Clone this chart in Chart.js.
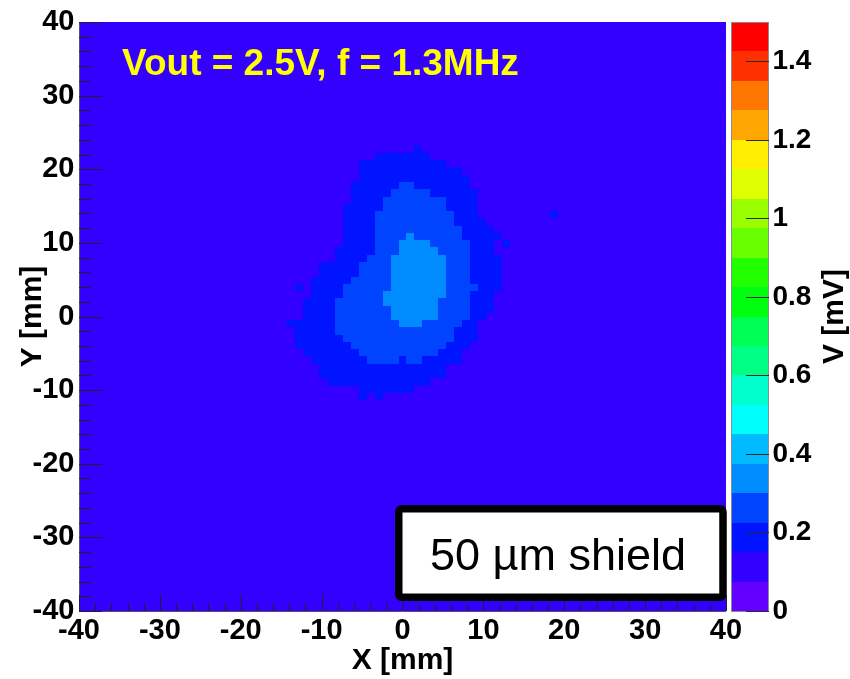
<!DOCTYPE html>
<html>
<head>
<meta charset="utf-8">
<title>Vout = 2.5V, f = 1.3MHz</title>
<script src="https://cdn.jsdelivr.net/npm/chart.js@4/dist/chart.umd.min.js"></script>
<style>
  html, body { margin: 0; padding: 0; background: #ffffff; }
  #wrap { width: 850px; height: 679px; }
</style>
</head>
<body>
<div id="wrap"><canvas id="map" width="850" height="679"></canvas></div>
<script>
// ---- Scan grid: 81 x 81 bins covering -40 .. 40 mm on both axes ----
const BIN_INDEX_MIN = -40;
const BIN_INDEX_MAX = 40;
const BIN_WIDTH_MM = 80 / 81;

// Signal amplitude (mV) away from the hot spot
const BACKGROUND_MV = 0.11;

// Amplitude of the three rings around the hot spot, outer to inner (mV)
const RING_VALUES_MV = [0.19, 0.26, 0.34];

// Cells of each ring: [bin row, first bin column, last bin column]
const OUTER_RING = [
  [23, 2, 2], [22, -3, 3], [21, -5, 5], [20, -5, 7], [19, -5, 8], [18, -6, 8],
  [17, -6, 9], [16, -6, 9], [15, -7, 9], [14, -7, 9], [14, 19, 19], [13, -7, 10],
  [12, -7, 11], [11, -7, 12], [10, -7, 11], [10, 13, 13], [9, -8, 11], [8, -8, 12],
  [7, -10, 12], [6, -10, 12], [5, -11, 12], [4, -11, 12], [4, -13, -13], [3, -11, 11],
  [2, -12, 11], [1, -12, 11], [0, -12, 10], [-1, -14, 9], [-2, -13, 9], [-3, -13, 9],
  [-4, -13, 8], [-5, -12, 7], [-6, -11, 7], [-7, -10, 5], [-8, -10, 5], [-9, -9, 3],
  [-10, -5, 1], [-11, -5, -5], [-11, -3, -3]
];
const MIDDLE_RING = [
  [18, 0, 1], [17, -1, 3], [16, -2, 5], [15, -2, 5], [14, -3, 6], [13, -3, 6],
  [12, -3, 7], [11, -3, 7], [10, -3, 8], [9, -3, 8], [8, -4, 8], [7, -5, 8],
  [6, -5, 8], [5, -6, 8], [4, -7, 9], [3, -7, 8], [2, -8, 8], [1, -8, 8],
  [0, -8, 8], [-1, -8, 7], [-2, -8, 6], [-3, -7, 6], [-4, -6, 5], [-5, -5, 4],
  [-6, -4, -1], [-6, 1, 2]
];
const INNER_RING = [
  [11, 1, 1], [10, 0, 3], [9, 0, 4], [8, -1, 5], [7, -1, 5], [6, -1, 5],
  [5, -1, 5], [4, -1, 5], [3, -2, 5], [2, -2, 4], [1, -1, 4], [0, -1, 4],
  [-1, 0, 2]
];
const RINGS = [OUTER_RING, MIDDLE_RING, INNER_RING];

// Axis ticks
const AXIS_TICKS_MM = [-40, -30, -20, -10, 0, 10, 20, 30, 40];
const Z_TICKS_MV = [0, 0.2, 0.4, 0.6, 0.8, 1, 1.2, 1.4];
const Z_MIN = 0;
const Z_MAX = 1.5;

// Texts
const RUN_LABEL = 'Vout = 2.5V, f = 1.3MHz';
const SHIELD_LABEL = '50 \u00b5m shield';
const X_TITLE = 'X [mm]';
const Y_TITLE = 'Y [mm]';
const Z_TITLE = 'V [mV]';

// 20-step violet-to-red colour scale
const PALETTE = [
  '#6300ff', '#3300ff', '#0014ff', '#0044ff', '#008bff', '#00bbff', '#00fffc',
  '#00ffcc', '#00ff85', '#00ff55', '#00ff0e', '#22ff00', '#69ff00', '#99ff00',
  '#e0ff00', '#ffee00', '#ffa700', '#ff7700', '#ff3000', '#ff0000'
];

const FONT = '"Liberation Sans", Arial, Helvetica, sans-serif';

function cellValue(i, j) {
  let v = BACKGROUND_MV;
  RINGS.forEach((ring, k) => {
    for (const [row, c0, c1] of ring) {
      if (row === j && i >= c0 && i <= c1) v = RING_VALUES_MV[k];
    }
  });
  return v;
}

function colorFor(v) {
  const n = PALETTE.length;
  const k = Math.floor((v - Z_MIN) / (Z_MAX - Z_MIN) * n);
  return PALETTE[Math.max(0, Math.min(n - 1, k))];
}

const cells = [];
for (let j = BIN_INDEX_MIN; j <= BIN_INDEX_MAX; j++) {
  for (let i = BIN_INDEX_MIN; i <= BIN_INDEX_MAX; i++) {
    cells.push({ x: i * BIN_WIDTH_MM, y: j * BIN_WIDTH_MM, v: cellValue(i, j) });
  }
}

// Fills every bin as a rectangle on the x/y scales
const heatmapPlugin = {
  id: 'heatmap',
  beforeDatasetsDraw(chart) {
    const { ctx, chartArea: a, scales: { x, y } } = chart;
    const half = BIN_WIDTH_MM / 2;
    ctx.save();
    ctx.beginPath();
    ctx.rect(a.left, a.top, a.right - a.left, a.bottom - a.top);
    ctx.clip();
    for (const c of chart.data.datasets[0].data) {
      const x0 = Math.round(x.getPixelForValue(c.x - half));
      const x1 = Math.round(x.getPixelForValue(c.x + half));
      const y0 = Math.round(y.getPixelForValue(c.y + half));
      const y1 = Math.round(y.getPixelForValue(c.y - half));
      ctx.fillStyle = colorFor(c.v);
      ctx.fillRect(x0, y0, x1 - x0, y1 - y0);
    }
    ctx.restore();
  }
};

// Frame, inward tick marks and the colour bar
const axesPlugin = {
  id: 'frameAndPalette',
  afterDatasetsDraw(chart) {
    const { ctx, chartArea: a, scales: { x, y, z } } = chart;
    ctx.save();

    // colour bar
    const pl = z.left + 5, pw = 38, n = PALETTE.length;
    PALETTE.forEach((col, k) => {
      const v0 = Z_MIN + (Z_MAX - Z_MIN) * k / n;
      const v1 = Z_MIN + (Z_MAX - Z_MIN) * (k + 1) / n;
      const t = Math.round(z.getPixelForValue(v1));
      const b = Math.round(z.getPixelForValue(v0));
      ctx.fillStyle = col;
      ctx.fillRect(pl, t, pw, b - t);
    });
    ctx.lineWidth = 1;
    ctx.strokeStyle = '#8c8c8c';
    ctx.strokeRect(pl + 0.5, z.top + 0.5, pw - 1, z.bottom - z.top);
    ctx.strokeStyle = '#2a2a2a';
    z.ticks.forEach(t => {
      const py = Math.round(z.getPixelForValue(t.value)) + 0.5;
      ctx.beginPath();
      ctx.moveTo(pl + pw, py);
      ctx.lineTo(pl + pw - 23, py);
      ctx.stroke();
    });

    // frame lines
    ctx.strokeStyle = '#555555';
    ctx.beginPath();
    ctx.moveTo(a.left + 0.5, a.top);
    ctx.lineTo(a.left + 0.5, a.bottom + 0.5);
    ctx.lineTo(a.right, a.bottom + 0.5);
    ctx.stroke();

    // x ticks (4 minor divisions between labelled ticks)
    ctx.strokeStyle = '#222222';
    const xt = x.ticks.map(t => t.value);
    xt.forEach((v, k) => {
      const px = Math.round(x.getPixelForValue(v)) + 0.5;
      ctx.beginPath(); ctx.moveTo(px, a.bottom); ctx.lineTo(px, a.bottom - 16); ctx.stroke();
      if (k < xt.length - 1) {
        for (let m = 1; m < 5; m++) {
          const mx = Math.round(x.getPixelForValue(v + (xt[k + 1] - v) * m / 5)) + 0.5;
          ctx.beginPath(); ctx.moveTo(mx, a.bottom); ctx.lineTo(mx, a.bottom - 8); ctx.stroke();
        }
      }
    });
    // y ticks
    const yt = y.ticks.map(t => t.value);
    yt.forEach((v, k) => {
      const py = Math.round(y.getPixelForValue(v)) + 0.5;
      ctx.beginPath(); ctx.moveTo(a.left, py); ctx.lineTo(a.left + 23, py); ctx.stroke();
      if (k < yt.length - 1) {
        for (let m = 1; m < 5; m++) {
          const my = Math.round(y.getPixelForValue(v + (yt[k + 1] - v) * m / 5)) + 0.5;
          ctx.beginPath(); ctx.moveTo(a.left, my); ctx.lineTo(a.left + 12, my); ctx.stroke();
        }
      }
    });
    ctx.restore();
  }
};

// Run conditions, shield tag and colour-bar title
const labelsPlugin = {
  id: 'labels',
  afterDraw(chart) {
    const { ctx, scales: { z } } = chart;
    ctx.save();
    ctx.font = 'bold 37px ' + FONT;
    ctx.fillStyle = '#ffff00';
    ctx.textAlign = 'left';
    ctx.textBaseline = 'alphabetic';
    ctx.fillText(RUN_LABEL, 122, 75);

    ctx.fillStyle = '#ffffff';
    ctx.strokeStyle = '#000000';
    ctx.lineWidth = 7.5;
    ctx.lineJoin = 'round';
    ctx.beginPath();
    ctx.roundRect(398.75, 508.75, 324.25, 88.5, 3);
    ctx.fill();
    ctx.stroke();
    ctx.fillStyle = '#000000';
    ctx.font = '45px ' + FONT;
    ctx.textAlign = 'center';
    ctx.fillText(SHIELD_LABEL, 558, 570);

    ctx.translate(835, (z.top + z.bottom) / 2);
    ctx.rotate(-Math.PI / 2);
    ctx.font = 'bold 30px ' + FONT;
    ctx.textBaseline = 'middle';
    ctx.fillText(Z_TITLE, 0, 0);
    ctx.restore();
  }
};

const tickFont = { family: FONT, size: 29, weight: 'bold' };
const titleFont = { family: FONT, size: 30, weight: 'bold' };

// vertical scales: fixed width, no extra room reserved for end labels
const fitVertical = width => s => {
  s.width = width;
  s.paddingTop = 0;
  s.paddingBottom = 0;
};

new Chart(document.getElementById('map'), {
  type: 'scatter',
  data: { datasets: [{ data: cells, pointRadius: 0, pointHoverRadius: 0 }] },
  options: {
    responsive: false,
    animation: false,
    devicePixelRatio: 1,
    events: [],
    layout: { padding: { top: 22, left: 0, right: 0, bottom: 0 } },
    plugins: { legend: { display: false }, tooltip: { enabled: false } },
    scales: {
      x: {
        type: 'linear', position: 'bottom', min: -40, max: 40,
        afterBuildTicks: s => { s.ticks = AXIS_TICKS_MM.map(v => ({ value: v })); },
        afterFit: s => { s.height = 68; s.paddingLeft = 0; s.paddingRight = 0; },
        grid: { display: false, drawTicks: false },
        border: { display: false },
        ticks: { autoSkip: false, maxRotation: 0, padding: 3, color: '#000', font: tickFont,
                 callback: v => String(v) },
        title: { display: true, text: X_TITLE, color: '#000', font: titleFont,
                 padding: { top: 0, bottom: 0 } }
      },
      y: {
        type: 'linear', position: 'left', min: -40, max: 40,
        afterBuildTicks: s => { s.ticks = AXIS_TICKS_MM.map(v => ({ value: v })); },
        afterFit: fitVertical(79),
        grid: { display: false, drawTicks: false },
        border: { display: false },
        ticks: { autoSkip: false, padding: 4.5, color: '#000', font: tickFont,
                 callback: v => String(v) },
        title: { display: true, text: Y_TITLE, color: '#000', font: titleFont,
                 padding: { top: 14.5, bottom: 0 } }
      },
      z: {
        type: 'linear', axis: 'y', position: 'right', min: Z_MIN, max: Z_MAX,
        afterBuildTicks: s => { s.ticks = Z_TICKS_MV.map(v => ({ value: v })); },
        afterFit: fitVertical(124),
        grid: { display: false, drawTicks: false },
        border: { display: false },
        ticks: { autoSkip: false, padding: 46.5, color: '#000',
                 font: { family: FONT, size: 28, weight: 'bold' },
                 callback: v => String(v) }
      }
    }
  },
  plugins: [heatmapPlugin, axesPlugin, labelsPlugin]
});
</script>
</body>
</html>
